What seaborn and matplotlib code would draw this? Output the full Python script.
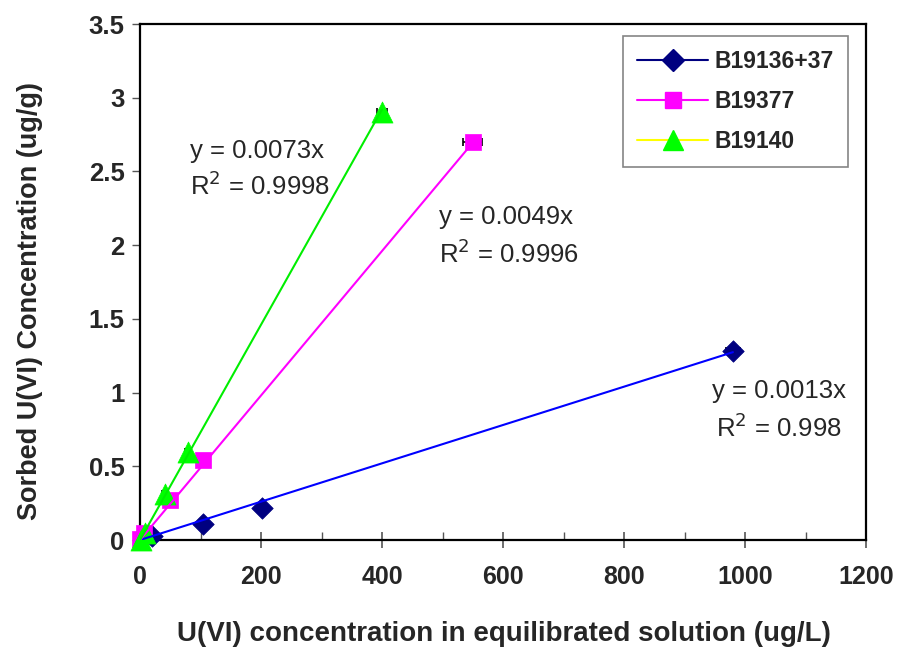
import numpy as np
import pandas as pd
import matplotlib
matplotlib.use("Agg")
import matplotlib.pyplot as plt
from matplotlib.lines import Line2D
from matplotlib.ticker import MultipleLocator
import seaborn as sns

# ---- data ----
series_names = ["B19136+37", "B19377", "B19140"]
x_b19136 = [20, 104, 202, 980]
y_b19136 = [0.025, 0.11, 0.22, 1.28]
xerr_b19136 = [3, 6, 6, 12]
x_b19377 = [0, 6, 50, 104, 550]
y_b19377 = [0.005, 0.05, 0.27, 0.54, 2.70]
xerr_b19377 = [1, 2, 6, 6, 16]
x_b19140 = [1, 8, 42, 80, 400]
y_b19140 = [0.0, 0.05, 0.31, 0.60, 2.90]
xerr_b19140 = [1, 2, 5, 5, 8]
slopes = [0.0013, 0.0049, 0.0073]
r2_values = ["0.998", "0.9996", "0.9998"]
x_ticks = [0, 200, 400, 600, 800, 1000, 1200]
y_ticks = [0, 0.5, 1, 1.5, 2, 2.5, 3, 3.5]

sns.set_theme(style="ticks")
plt.rcParams["font.family"] = ["Liberation Sans", "DejaVu Sans"]

fig = plt.figure(figsize=(8.99, 6.48), dpi=100)
ax = fig.add_axes([140 / 899, 1 - 540 / 648, (866 - 140) / 899, (540 - 24) / 648])

marker_colors = ["#000080", "#ff00ff", "#00ff00"]
trend_colors = ["#0000ff", "#ff00ff", "#00ee00"]
legend_line_colors = ["#000080", "#ff00ff", "#ffff00"]
markers = ["D", "s", "^"]
msizes = [120, 140, 230]
xs = [x_b19136, x_b19377, x_b19140]
ys = [y_b19136, y_b19377, y_b19140]
xerrs = [xerr_b19136, xerr_b19377, xerr_b19140]

# trend lines
for i in range(3):
    xl = np.array([0, max(xs[i])])
    df = pd.DataFrame({"x": xl, "y": slopes[i] * xl})
    sns.lineplot(data=df, x="x", y="y", ax=ax, color=trend_colors[i], lw=1.5, zorder=5)

# error bars + points
for i in range(3):
    ax.errorbar(xs[i], ys[i], xerr=xerrs[i], fmt="none", ecolor="black", elinewidth=1.2,
                capsize=3, capthick=1.2, zorder=3)
    df = pd.DataFrame({"x": xs[i], "y": ys[i]})
    sns.scatterplot(data=df, x="x", y="y", ax=ax, marker=markers[i], s=msizes[i],
                    color=marker_colors[i], edgecolor=marker_colors[i], linewidth=0.5,
                    zorder=4, clip_on=False)

ax.set_xlim(0, 1200)
ax.set_ylim(0, 3.5)
ax.set_xticks(x_ticks)
ax.set_yticks(y_ticks)
ax.set_yticklabels(["0", "0.5", "1", "1.5", "2", "2.5", "3", "3.5"])
ax.xaxis.set_minor_locator(MultipleLocator(100))
ax.tick_params(axis="x", which="major", direction="inout", length=12, width=1.2, color="#555555",
               labelsize=18, pad=12)
ax.tick_params(axis="x", which="minor", direction="in", length=6, width=1.0, color="#555555")
ax.tick_params(axis="y", which="major", direction="out", length=6, width=1.0, color="#555555",
               labelsize=18.5, pad=5)
for lab in ax.get_xticklabels() + ax.get_yticklabels():
    lab.set_fontweight("bold")
for sp in ax.spines.values():
    sp.set_visible(True)
    sp.set_color("black")
    sp.set_linewidth(1.6)

ax.set_xlabel("U(VI) concentration in equilibrated solution (ug/L)", fontsize=20,
              fontweight="bold")
ax.set_ylabel("Sorbed U(VI) Concentration (ug/g)", fontsize=19.5, fontweight="bold")
ax.xaxis.set_label_coords(0.501, -0.157)
ax.yaxis.set_label_coords(-0.134, 0.463)

# equation annotations
ann_pos = [(946, 1.01, 952, 0.76), (495, 2.19, 495, 1.94), (83, 2.64, 83, 2.40)]
for i in range(3):
    ex, ey, rx, ry = ann_pos[i]
    ax.text(ex, ey, f"y = {slopes[i]}x", fontsize=18.5, ha="left", va="center")
    ax.text(rx, ry, f"R$^2$ = {r2_values[i]}", fontsize=18.5, ha="left", va="center")

# legend
handles = [Line2D([0], [0], color=legend_line_colors[i], lw=1.5, marker=markers[i],
                  markersize=[11, 12, 14][i], markerfacecolor=marker_colors[i],
                  markeredgecolor=marker_colors[i]) for i in range(3)]
leg = fig.legend(handles, series_names, loc="upper right",
                 bbox_to_anchor=(848 / 899, 1 - 36 / 648), frameon=True, fancybox=False,
                 edgecolor="#666666", prop={"weight": "bold", "size": 16.5}, handlelength=3.1,
                 labelspacing=0.75, borderpad=0.6, handletextpad=0.3, borderaxespad=0)
leg.get_frame().set_linewidth(1.2)

fig.savefig("out.png", dpi=100)
